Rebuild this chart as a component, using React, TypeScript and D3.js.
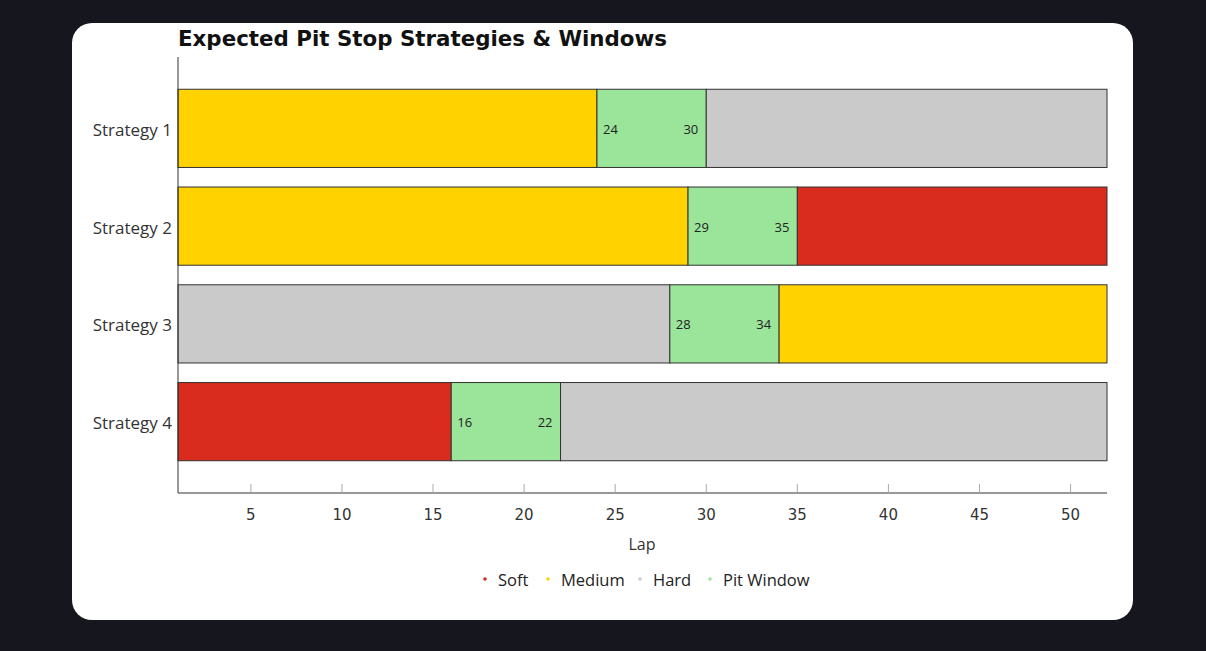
import React from "react";
import * as d3 from "d3";

// Tyre compounds and their colours
const compounds = ["Soft", "Medium", "Hard", "Pit Window"];
const compoundColors = ["#d92b1e", "#ffd200", "#cacaca", "#9ae59a"];

const strategies = ["Strategy 1", "Strategy 2", "Strategy 3", "Strategy 4"];
// Stint compounds per strategy (first stint, last stint)
const firstStint = ["Medium", "Medium", "Hard", "Soft"];
const lastStint = ["Hard", "Soft", "Medium", "Hard"];
// Pit window start / end laps
const windowStart = [24, 29, 28, 16];
const windowEnd = [30, 35, 34, 22];

const raceStart = 1;
const raceEnd = 52;
const xTicks = [5, 10, 15, 20, 25, 30, 35, 40, 45, 50];

const W = 1206;
const H = 651;
const plot = { left: 178, right: 1107, top: 57, bottom: 493 };

export default function App() {
  const x = d3.scaleLinear().domain([raceStart, raceEnd]).range([plot.left, plot.right]);
  const y = d3
    .scaleBand<string>()
    .domain(strategies)
    .range([plot.top, plot.bottom])
    .paddingInner(0.2)
    .paddingOuter(0.33);
  const color = d3.scaleOrdinal<string, string>().domain(compounds).range(compoundColors);

  const segs = strategies.flatMap((s, i) => [
    { s, c: firstStint[i], a: raceStart, b: windowStart[i] },
    { s, c: "Pit Window", a: windowStart[i], b: windowEnd[i] },
    { s, c: lastStint[i], a: windowEnd[i], b: raceEnd },
  ]);

  const legendX = [485, 548, 640, 710];
  const font = "'Open Sans', 'DejaVu Sans', sans-serif";

  return (
    <svg width={W} height={H} style={{ position: "absolute", left: 0, top: 0, display: "block" }}>
      <rect x={0} y={0} width={W} height={H} fill="#16161f" />
      <rect x={72} y={23} width={1061} height={597} rx={20} ry={20} fill="#ffffff" />
      <text
        x={178}
        y={46}
        fontFamily="'DejaVu Sans', sans-serif"
        fontWeight="bold"
        fontSize={20.5}
        fill="#111"
        textLength={489}
        lengthAdjust="spacingAndGlyphs"
      >
        Expected Pit Stop Strategies &amp; Windows
      </text>

      {segs.map((d, i) => (
        <rect
          key={i}
          x={x(d.a)}
          y={y(d.s)!}
          width={x(d.b) - x(d.a)}
          height={y.bandwidth()}
          fill={color(d.c)}
          stroke="#333"
          strokeWidth={1}
        />
      ))}

      {strategies.map((s, i) => (
        <g key={s} fontFamily={font} fontSize={13} fill="#222">
          <text x={x(windowStart[i]) + 6} y={y(s)! + y.bandwidth() / 2 + 1} dy="0.35em">
            {windowStart[i]}
          </text>
          <text
            x={x(windowEnd[i]) - 8}
            y={y(s)! + y.bandwidth() / 2 + 1}
            dy="0.35em"
            textAnchor="end"
          >
            {windowEnd[i]}
          </text>
          <text
            x={172}
            y={y(s)! + y.bandwidth() / 2 + 1.5}
            dy="0.35em"
            textAnchor="end"
            fontSize={17}
            fill="#333"
          >
            {s}
          </text>
        </g>
      ))}

      {/* axes */}
      <line x1={plot.left} x2={plot.left} y1={plot.top} y2={plot.bottom} stroke="#333" />
      <line x1={plot.left} x2={plot.right} y1={plot.bottom} y2={plot.bottom} stroke="#333" />
      {xTicks.map((t) => (
        <g key={t}>
          <line x1={x(t)} x2={x(t)} y1={plot.bottom - 9} y2={plot.bottom} stroke="#aaa" />
          <text
            x={x(t)}
            y={plot.bottom + 22}
            dy="0.35em"
            textAnchor="middle"
            fontFamily="'DejaVu Sans', sans-serif"
            fontSize={15}
            fill="#333"
          >
            {t}
          </text>
        </g>
      ))}
      <text x={642} y={544} dy="0.35em" textAnchor="middle" fontFamily={font} fontSize={16} fill="#333">
        Lap
      </text>

      {compounds.map((c, i) => (
        <g key={c}>
          <circle cx={legendX[i]} cy={579} r={1.8} fill={color(c)} />
          <text x={legendX[i] + 13} y={580} dy="0.35em" fontFamily={font} fontSize={16.5} fill="#222">
            {c}
          </text>
        </g>
      ))}
    </svg>
  );
}
